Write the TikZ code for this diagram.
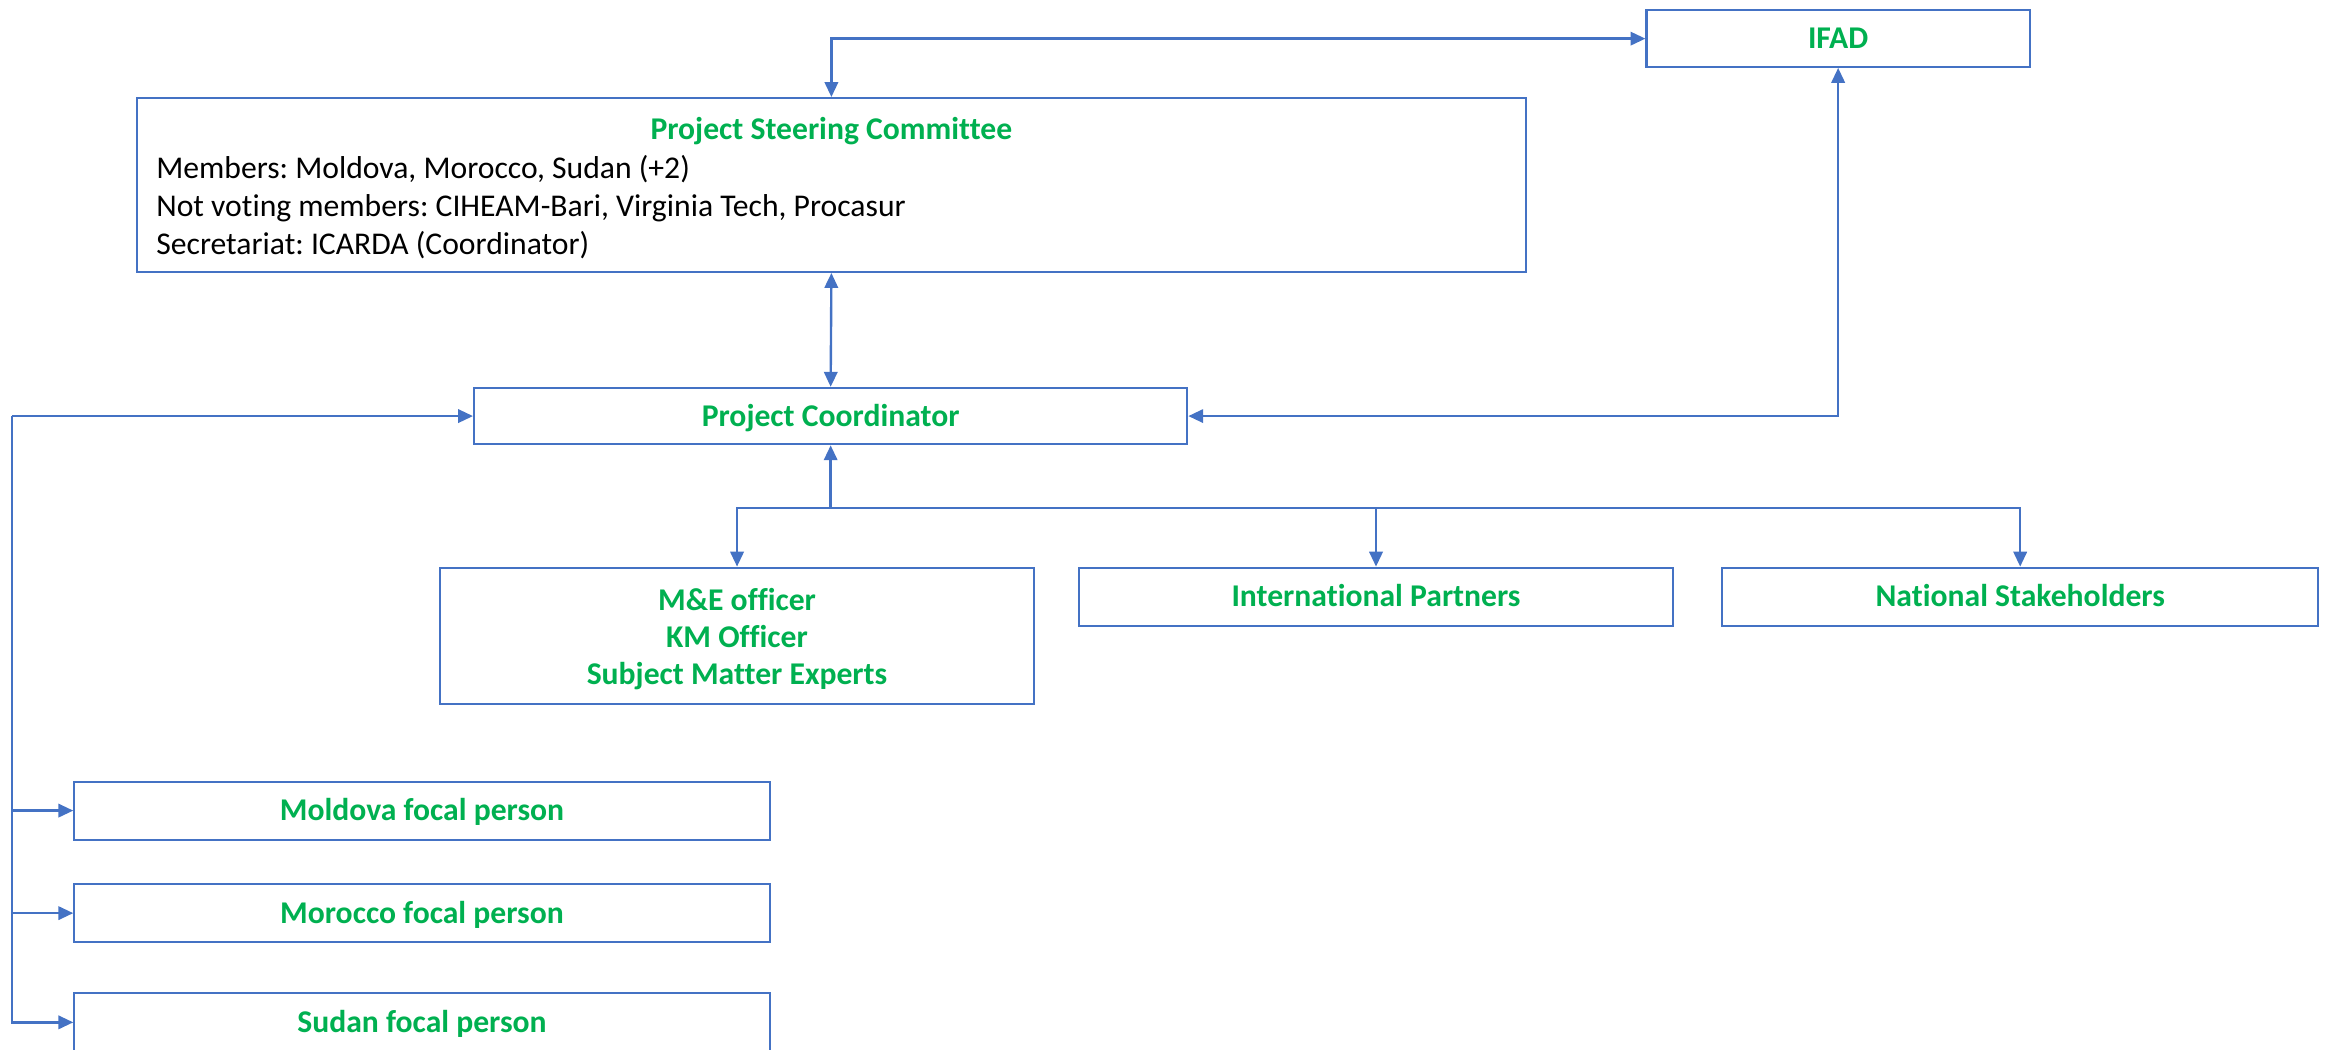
\documentclass[tikz,border=0pt]{standalone}
\usepackage{fontspec}
\setmainfont{Carlito}[Ligatures={NoCommon}]
\frenchspacing
\usetikzlibrary{arrows.meta}
\definecolor{blueline}{HTML}{4472C4}
\definecolor{greentext}{HTML}{00B050}
\tikzset{
  box/.style={draw=blueline, line width=1.4pt, inner sep=0pt, text=greentext,
    font=\fontsize{21.3}{26}\selectfont\bfseries, text height=13.7pt, text depth=0pt},
  plain/.style={inner sep=0pt, text=black, font=\fontsize{21.3}{26}\selectfont},
  greenlbl/.style={inner sep=0pt, text=greentext, font=\fontsize{21.3}{26}\selectfont\bfseries, text height=13.7pt, text depth=0pt},
  conn/.style={draw=blueline, line width=1.6pt, line join=miter},
  tip/.style={-{Triangle[length=10pt,width=9pt]}},
  bitip/.style={{Triangle[length=10pt,width=9pt]}-{Triangle[length=10pt,width=9pt]}}
}
\begin{document}
\begin{tikzpicture}[x=1pt,y=-1pt]
\useasboundingbox (0,0) rectangle (1568,706);
% boxes
\node[box, minimum width=258pt, minimum height=38pt] (ifad) at (1237,26) {IFAD};
\node[box, minimum width=935pt, minimum height=117pt] (psc) at (559.5,124.5) {};
\node[greenlbl] (psctitle) at (559.5,87) {Project Steering Committee};
\node[plain, anchor=base west] (pscl1) at (105,120) {Members: Moldova, Morocco, Sudan (+2)};
\node[plain, anchor=base west] (pscl2) at (105,146) {Not voting members: CIHEAM-Bari, Virginia Tech, Procasur};
\node[plain, anchor=base west] (pscl3) at (105,171) {Secretariat: ICARDA (Coordinator)};
\node[box, minimum width=480pt, minimum height=38pt] (pc) at (559,280) {Project Coordinator};
\node[box, minimum width=400pt, minimum height=92pt] (me) at (496,428) {};
\node[greenlbl] (me1) at (496,404) {M\&E officer};
\node[greenlbl] (me2) at (496,429) {KM Officer};
\node[greenlbl] (me3) at (496,454) {Subject Matter Experts};
\node[box, minimum width=400pt, minimum height=39pt] (ip) at (926,401.5) {International Partners};
\node[box, minimum width=401pt, minimum height=39pt] (ns) at (1359.5,401.5) {National Stakeholders};
\node[box, minimum width=468pt, minimum height=39pt] (mol) at (284,545.5) {Moldova focal person};
\node[box, minimum width=468pt, minimum height=39pt] (mor) at (284,614.5) {Morocco focal person};
\node[box, minimum width=468pt, minimum height=40pt] (sud) at (284,688) {Sudan focal person};
% connectors
\draw[conn, bitip] (ifad.west) -| (psc.north);
\draw[conn, bitip] (psc.south) -- (pc.north);
\draw[conn, bitip] (ifad.south) |- (pc.east);
\coordinate (j) at (559,342);
\draw[conn, tip] (j) -- (pc.south);
\draw[conn, tip] (j) -| (me.north);
\draw[conn, tip] (j) -| (ip.north);
\draw[conn, tip] (j) -| (ns.north);
\coordinate (l) at (8,280);
\draw[conn, tip] (l) -- (pc.west);
\draw[conn, tip] (l) |- (sud.west);
\draw[conn, tip] (l |- mol.west) -- (mol.west);
\draw[conn, tip] (l |- mor.west) -- (mor.west);
\end{tikzpicture}
\end{document}
